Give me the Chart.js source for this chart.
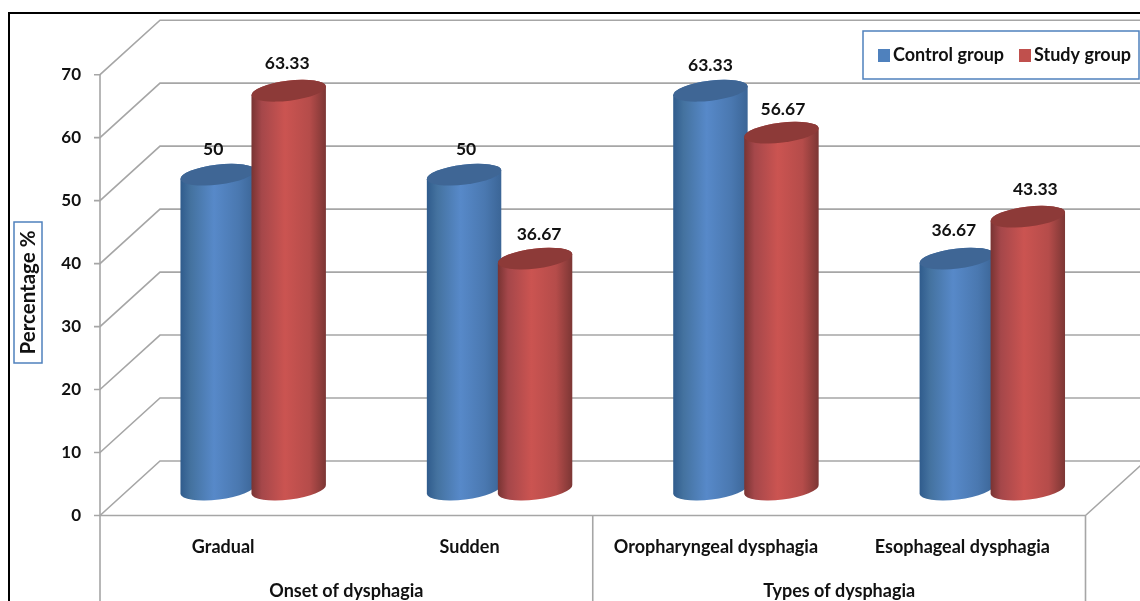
<!DOCTYPE html>
<html>
<head>
<meta charset="utf-8">
<title>Dysphagia chart</title>
<script src="https://cdn.jsdelivr.net/npm/chart.js@4"></script>
<style>
  html, body { margin: 0; padding: 0; background: #fff; }
  canvas { display: block; }
</style>
</head>
<body>
<canvas id="chart" width="1140" height="601"></canvas>
<script>
const categories = ['Gradual', 'Sudden', 'Oropharyngeal dysphagia', 'Esophageal dysphagia'];
const groupLabels = ['Onset of dysphagia', 'Types of dysphagia'];
const controlValues = [50, 50, 63.33, 36.67];
const studyValues = [63.33, 36.67, 56.67, 43.33];
const seriesNames = ['Control group', 'Study group'];
const yTitle = 'Percentage %';

const FONT = 'Lato, Carlito, sans-serif';
const INK = '#111111';
const GRID = '#a6a6a6';
const BOX = '#4f81bd';
const DEPTH_X = 60;
const DEPTH_Y = 54.5;
const BAR_LIFT = 26;
const PAGE_W = 1140;

// the value labels were moved by hand in the original, these are the px nudges
const labelNudgeX = [[-4.5, 2, 0, -3], [-1.5, 4, 1.5, 7.5]];
const labelNudgeY = [[0, 0, 0, -3], [-2, 1, 2, -2]];

const looks = [
  { swatch: '#4f81bd', stops: ['#2f5b8c', '#44729f', '#5789c9', '#4a78b0', '#3b6596'], cap: '#3f6695' },
  { swatch: '#c0504d', stops: ['#773332', '#a5474a', '#cb5451', '#b54c4a', '#7b3634'], cap: '#8d3a38' },
];
const stopAt = [0, 0.14, 0.45, 0.78, 1];

// back wall, floor and the axis lines, everything hung off the y scale
const wallPlugin = {
  id: 'wall',
  beforeDatasetsDraw(chart) {
    const { ctx, chartArea: a, scales } = chart;
    ctx.save();
    ctx.strokeStyle = GRID;
    ctx.lineWidth = 1.6;
    scales.y.ticks.forEach((t) => {
      const y = scales.y.getPixelForValue(t.value);
      ctx.beginPath();
      ctx.moveTo(a.left - 6, y);
      ctx.lineTo(a.left, y);
      ctx.lineTo(a.left + DEPTH_X, y - DEPTH_Y);
      ctx.lineTo(PAGE_W, y - DEPTH_Y);
      ctx.stroke();
    });
    const floor = scales.y.getPixelForValue(0);
    const mid = (a.left + a.right) / 2;
    ctx.beginPath();
    ctx.moveTo(a.left, a.top);
    ctx.lineTo(a.left, 601);
    ctx.moveTo(a.left, floor);
    ctx.lineTo(a.right, floor);
    ctx.moveTo(mid, floor);
    ctx.lineTo(mid, 601);
    ctx.moveTo(a.right, 601);
    ctx.lineTo(a.right, floor);
    ctx.lineTo(a.right + DEPTH_X, floor - DEPTH_Y);
    ctx.stroke();
    ctx.restore();
  },
};

function drawCylinder(ctx, el, look) {
  const rx = 37.5, ry = 10, tilt = -7 * Math.PI / 180;
  const cx = el.x + DEPTH_X / 2;
  const top = el.y - BAR_LIFT;
  const base = el.base - BAR_LIFT;
  const g = ctx.createLinearGradient(cx - rx, 0, cx + rx, 0);
  look.stops.forEach((c, i) => g.addColorStop(stopAt[i], c));
  ctx.beginPath();
  ctx.ellipse(cx, base, rx, ry, tilt, 0, Math.PI);
  ctx.ellipse(cx, top, rx, ry, tilt, Math.PI, 0);
  ctx.closePath();
  ctx.fillStyle = g;
  ctx.fill();
  ctx.beginPath();
  ctx.ellipse(cx, top, rx, ry, tilt, 0, Math.PI * 2);
  ctx.fillStyle = look.cap;
  ctx.fill();
}

// bars are kept by chart.js for their positions, painted here as cylinders
const cylinderPlugin = {
  id: 'cylinders',
  afterDatasetsDraw(chart) {
    const { ctx } = chart;
    ctx.save();
    // category by category so each study bar sits over its control bar
    categories.forEach((_, i) => {
      chart.data.datasets.forEach((ds, d) => {
        drawCylinder(ctx, chart.getDatasetMeta(d).data[i], looks[d]);
      });
    });
    ctx.fillStyle = INK;
    ctx.font = 'bold 17.5px ' + FONT;
    ctx.textAlign = 'center';
    ctx.textBaseline = 'middle';
    chart.data.datasets.forEach((ds, d) => {
      chart.getDatasetMeta(d).data.forEach((el, i) => {
        const x = el.x + DEPTH_X / 2 + labelNudgeX[d][i];
        const y = el.y - BAR_LIFT - 25 + labelNudgeY[d][i];
        ctx.fillText(String(ds.data[i]), x, y);
      });
    });
    ctx.restore();
  },
};

// frame, y title box, legend box and the lower level of the category axis
const furniturePlugin = {
  id: 'furniture',
  afterDraw(chart) {
    const { ctx, chartArea: a } = chart;
    ctx.save();
    ctx.strokeStyle = '#000';
    ctx.lineWidth = 2;
    ctx.beginPath();
    ctx.moveTo(9, 601);
    ctx.lineTo(9, 13);
    ctx.lineTo(PAGE_W, 13);
    ctx.stroke();

    ctx.strokeStyle = BOX;
    ctx.lineWidth = 1.5;
    ctx.strokeRect(14, 222, 28, 141);
    ctx.fillStyle = '#fff';
    ctx.fillRect(863, 31, 276, 48);
    ctx.strokeRect(863, 31, 276, 48);

    ctx.fillStyle = INK;
    ctx.textBaseline = 'middle';
    ctx.textAlign = 'center';
    ctx.font = 'bold 18px ' + FONT;
    const band = (a.right - a.left) / 2;
    groupLabels.forEach((label, i) => {
      ctx.fillText(label, a.left + band * (i + 0.5), 591);
    });

    ctx.save();
    ctx.translate(28, 292.5);
    ctx.rotate(-Math.PI / 2);
    ctx.font = 'bold 20.5px ' + FONT;
    ctx.fillText(yTitle, 0, 0);
    ctx.restore();

    ctx.textAlign = 'left';
    ctx.font = 'bold 18px ' + FONT;
    const swatchX = [878, 1019];
    seriesNames.forEach((name, i) => {
      ctx.fillStyle = looks[i].swatch;
      ctx.fillRect(swatchX[i], 49, 12, 13);
      ctx.fillStyle = INK;
      ctx.fillText(name, swatchX[i] + 15, 55.5);
    });
    ctx.restore();
  },
};

new Chart(document.getElementById('chart'), {
  type: 'bar',
  data: {
    labels: categories,
    datasets: [
      { label: seriesNames[0], data: controlValues, backgroundColor: 'transparent', barThickness: 71 },
      { label: seriesNames[1], data: studyValues, backgroundColor: 'transparent', barThickness: 71 },
    ],
  },
  plugins: [wallPlugin, cylinderPlugin, furniturePlugin],
  options: {
    responsive: false,
    animation: false,
    layout: { padding: { top: 74.7, right: 54.5, bottom: 0, left: 0 } },
    plugins: { legend: { display: false }, tooltip: { enabled: false } },
    scales: {
      x: {
        grid: { display: false },
        border: { display: false },
        ticks: { color: INK, font: { family: FONT, size: 18, weight: 'bold' }, padding: 13, maxRotation: 0, autoSkip: false },
        afterFit(scale) { scale.height = 85.5; },
      },
      y: {
        min: 0,
        max: 70,
        grid: { display: false },
        border: { display: false },
        ticks: { stepSize: 10, color: INK, font: { family: FONT, size: 17, weight: 'bold' }, padding: 11 },
        afterFit(scale) { scale.width = 100; },
      },
    },
  },
});
</script>
</body>
</html>
